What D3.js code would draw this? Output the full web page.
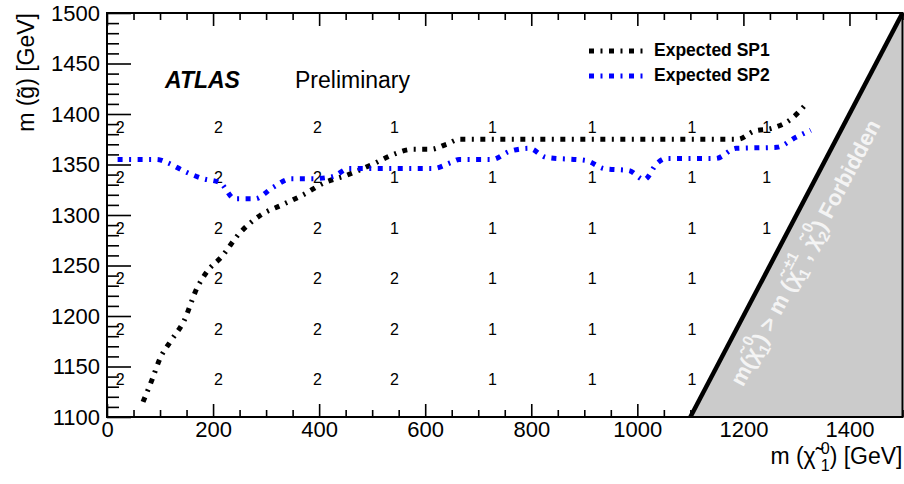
<!DOCTYPE html>
<html>
<head>
<meta charset="utf-8">
<script src="https://cdn.jsdelivr.net/npm/d3@7"></script>
<style>
body { margin: 0; background: #fff; }
svg text { font-family: "Liberation Sans", Arial, Helvetica, sans-serif; }
</style>
</head>
<body>
<script>
var width = 904, height = 484;
var margin = {left: 107, right: 1.5, top: 13, bottom: 67};

// axis ranges and ticks
var xDomain = [0, 1500];
var yDomain = [1100, 1500];
var xTicks = [0, 200, 400, 600, 800, 1000, 1200, 1400];
var yTicks = [1100, 1150, 1200, 1250, 1300, 1350, 1400, 1450, 1500];

// expected limit contours (neutralino mass, gluino mass)
var sp1Mass    = [68, 85, 100, 120, 145, 170, 190, 215, 250, 290, 330, 370, 410, 450, 500, 540, 575, 610, 640, 665, 1190, 1220, 1255, 1290, 1320];
var sp1Gluino  = [1115, 1137, 1158, 1175, 1195, 1228, 1245, 1258, 1282, 1300, 1310, 1320, 1332, 1339, 1350, 1360, 1365, 1365, 1370, 1375, 1375, 1383, 1386, 1395, 1411];
var sp2Mass    = [20, 94, 113, 147, 181, 213, 241, 279, 312, 348, 388, 425, 457, 614, 649, 664, 726, 759, 796, 828, 903, 937, 984, 1013, 1037, 1054, 1148, 1186, 1263, 1299, 1327];
var sp2Gluino  = [1355, 1355, 1352, 1343, 1336, 1332, 1316, 1316, 1327, 1336, 1336, 1338, 1346, 1346, 1352, 1355, 1355, 1363, 1366, 1357, 1354, 1346, 1344, 1335, 1351, 1356, 1356, 1366, 1367, 1377, 1384];

// best signal point numbers written on the grid
var gridMass   = [25, 210, 397, 542, 727, 915, 1103, 1244];
var gridGluino = [1387, 1337, 1287, 1237, 1187, 1137];
var gridLabels = [
    ["2", "2", "2", "1", "1", "1", "1", "1"],
    ["2", "2", "2", "1", "1", "1", "1", "1"],
    ["2", "2", "2", "1", "1", "1", "1", "1"],
    ["2", "2", "2", "2", "1", "1", "1", ""],
    ["2", "2", "2", "2", "1", "1", "1", ""],
    ["2", "2", "2", "2", "1", "1", "1", ""]
];

var legendNames  = ["Expected SP1", "Expected SP2"];
var legendColors = ["#000000", "#0000ff"];

// kinematically forbidden corner
var forbiddenMass   = [1100, 1500, 1500];
var forbiddenGluino = [1100, 1500, 1100];

var svg = d3.select("body").append("svg")
    .attr("width", width)
    .attr("height", height);

var x = d3.scaleLinear()
    .domain(xDomain)
    .range([margin.left, width - margin.right]);

var y = d3.scaleLinear()
    .domain(yDomain)
    .range([height - margin.bottom, margin.top]);

var x0 = margin.left, x1 = width - margin.right,
    y0 = height - margin.bottom, y1 = margin.top;

// minor ticks
var xMinor = d3.range(0, 1501, 50).filter(function (v) { return v % 200 != 0; });
var yMinor = d3.range(1100, 1501, 10).filter(function (v) { return v % 50 != 0; });
var fmt = d3.format("d");

function tickStyle(g) {
    g.select(".domain").remove();
    g.selectAll(".tick line").attr("stroke", "#000").attr("stroke-width", 1.6);
    g.selectAll(".tick text").attr("fill", "#000");
}

// bottom axis
svg.append("g")
    .attr("transform", "translate(0," + y0 + ")")
    .call(d3.axisBottom(x).tickValues(xTicks).tickFormat(fmt).tickSizeInner(-13).tickSizeOuter(0).tickPadding(4))
    .call(tickStyle)
    .selectAll("text").attr("font-size", 22);
svg.append("g")
    .attr("transform", "translate(0," + y0 + ")")
    .call(d3.axisBottom(x).tickValues(xMinor).tickSizeInner(-7).tickSizeOuter(0).tickFormat(""))
    .call(tickStyle);

// top axis (ticks only)
svg.append("g")
    .attr("transform", "translate(0," + y1 + ")")
    .call(d3.axisTop(x).tickValues(xTicks).tickSizeInner(-13).tickSizeOuter(0).tickFormat(""))
    .call(tickStyle);
svg.append("g")
    .attr("transform", "translate(0," + y1 + ")")
    .call(d3.axisTop(x).tickValues(xMinor).tickSizeInner(-7).tickSizeOuter(0).tickFormat(""))
    .call(tickStyle);

// left axis
svg.append("g")
    .attr("transform", "translate(" + x0 + ",0)")
    .call(d3.axisLeft(y).tickValues(yTicks).tickFormat(fmt).tickSizeInner(-24).tickSizeOuter(0).tickPadding(7))
    .call(tickStyle)
    .selectAll("text").attr("font-size", 22);
svg.append("g")
    .attr("transform", "translate(" + x0 + ",0)")
    .call(d3.axisLeft(y).tickValues(yMinor).tickSizeInner(-12).tickSizeOuter(0).tickFormat(""))
    .call(tickStyle);

// grid numbers
gridGluino.forEach(function (gy, r) {
    gridMass.forEach(function (gx, c) {
        if (gridLabels[r][c] == "") return;
        svg.append("text")
            .attr("x", x(gx))
            .attr("y", y(gy))
            .attr("dy", "0.36em")
            .attr("text-anchor", "middle")
            .attr("font-size", 16)
            .text(gridLabels[r][c]);
    });
});

// contours
var line = d3.line()
    .x(function (d) { return x(d[0]); })
    .y(function (d) { return y(d[1]); })
    .curve(d3.curveMonotoneX);

var dash = "5,6.5,2,6.5";

svg.append("path")
    .attr("d", line(d3.zip(sp1Mass, sp1Gluino)))
    .attr("fill", "none")
    .attr("stroke", legendColors[0])
    .attr("stroke-width", 5)
    .attr("stroke-dasharray", dash);

svg.append("path")
    .attr("d", line(d3.zip(sp2Mass, sp2Gluino)))
    .attr("fill", "none")
    .attr("stroke", legendColors[1])
    .attr("stroke-width", 5)
    .attr("stroke-dasharray", dash);

// forbidden region
svg.append("path")
    .attr("d", d3.line().x(function (d) { return x(d[0]); }).y(function (d) { return y(d[1]); })(d3.zip(forbiddenMass, forbiddenGluino)) + "Z")
    .attr("fill", "#cbcbcb");

svg.append("line")
    .attr("x1", x(1100)).attr("y1", y(1100))
    .attr("x2", x(1500)).attr("y2", y(1500))
    .attr("stroke", "#000")
    .attr("stroke-width", 4.5);

// frame
svg.append("rect")
    .attr("x", x0).attr("y", y1)
    .attr("width", x1 - x0).attr("height", y0 - y1)
    .attr("fill", "none")
    .attr("stroke", "#000")
    .attr("stroke-width", 2);

// text with stacked super/subscripts
function richText(textSel, parts, fs, upEm, gap) {
    var pending = 0, extraDx = 0;
    parts.forEach(function (p) {
        textSel.append("tspan").attr("dy", pending).attr("dx", extraDx).text(p.t);
        pending = 0;
        extraDx = 0;
        if (p.sup != null) {
            var ss = fs * 0.7, up = -fs * upEm, down = fs * 0.3;
            var sp = textSel.append("tspan").attr("font-size", ss).attr("dx", gap).attr("dy", up).text(p.sup);
            var w1 = sp.node().getComputedTextLength();
            var sb = textSel.append("tspan").attr("font-size", ss).attr("dx", -w1).attr("dy", down - up).text(p.sub);
            var w2 = sb.node().getComputedTextLength();
            pending = -down;
            extraDx = Math.max(0, w1 - w2);
        }
    });
}

var chi = "\u03C7\u0303";

// forbidden label along the diagonal
var p0 = [x(1100), y(1100)], p1 = [x(1500), y(1500)];
var len = Math.hypot(p1[0] - p0[0], p1[1] - p0[1]);
var u = [(p1[0] - p0[0]) / len, (p1[1] - p0[1]) / len];
var n = [-u[1], u[0]];
var angle = Math.atan2(u[1], u[0]) * 180 / Math.PI;
var along = 199, off = 33;
var fx = p0[0] + u[0] * along + n[0] * off,
    fy = p0[1] + u[1] * along + n[1] * off;

var ft = svg.append("text")
    .attr("transform", "translate(" + fx + "," + fy + ") rotate(" + angle + ")")
    .attr("text-anchor", "middle")
    .attr("font-size", 22)
    .attr("font-weight", "bold")
    .attr("fill", "#f4f4f4");
richText(ft, [
    {t: "m(" + chi, sup: "0", sub: "1"},
    {t: ") > m (" + chi, sup: "\u00B11", sub: "1"},
    {t: ", " + chi, sup: "0", sub: "2"},
    {t: ") Forbidden"}
], 22, 0.55, 0);

// ATLAS label
svg.append("text")
    .attr("x", 165).attr("y", 88)
    .attr("font-size", 23)
    .attr("font-weight", "bold")
    .attr("font-style", "italic")
    .text("ATLAS");
svg.append("text")
    .attr("x", 295).attr("y", 88)
    .attr("font-size", 23)
    .text("Preliminary");

// legend
legendNames.forEach(function (name, i) {
    var ly = 51 + i * 25;
    svg.append("line")
        .attr("x1", 589).attr("x2", 643)
        .attr("y1", ly).attr("y2", ly)
        .attr("stroke", legendColors[i])
        .attr("stroke-width", 5)
        .attr("stroke-dasharray", dash);
    svg.append("text")
        .attr("x", 654).attr("y", ly + 4.5)
        .attr("font-size", 17.5)
        .attr("font-weight", "bold")
        .text(name);
});

// axis titles
var xt = svg.append("text")
    .attr("x", x1).attr("y", 464)
    .attr("text-anchor", "end")
    .attr("font-size", 23);
richText(xt, [
    {t: "m (" + chi, sup: "0", sub: "1"},
    {t: ") [GeV]"}
], 23, 0.45, 5);

svg.append("text")
    .attr("transform", "translate(34," + y1 + ") rotate(-90)")
    .attr("text-anchor", "end")
    .attr("font-size", 23)
    .text("m (g\u0303) [GeV]");
</script>
</body>
</html>
